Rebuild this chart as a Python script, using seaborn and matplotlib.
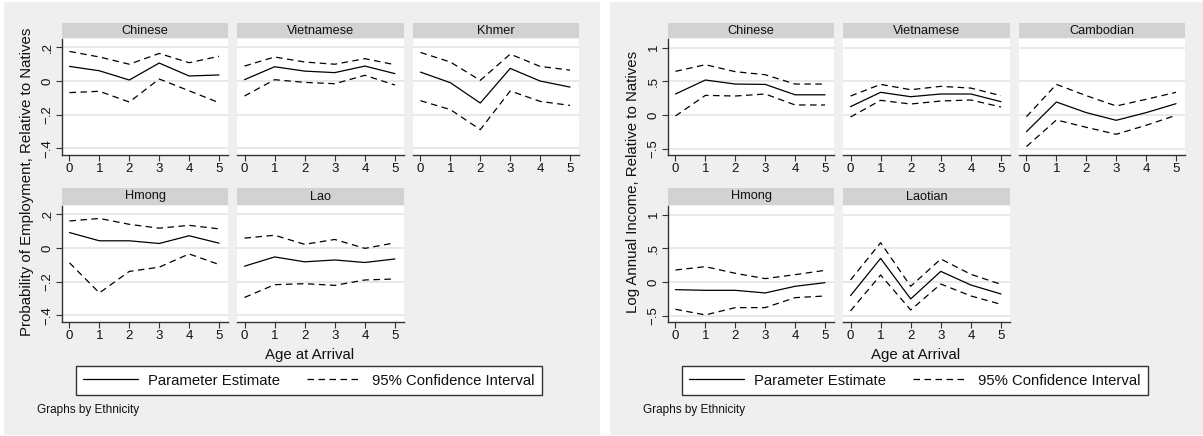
import matplotlib
matplotlib.use("Agg")
import matplotlib.pyplot as plt
from matplotlib.patches import Rectangle
from matplotlib.lines import Line2D
import seaborn as sns
import pandas as pd

# age at arrival (x axis for every panel)
ages = [0, 1, 2, 3, 4, 5]

# Left graph: probability of employment, relative to natives
emp_chinese_est = [0.087, 0.061, 0.006, 0.107, 0.030, 0.036]
emp_chinese_hi = [0.176, 0.143, 0.100, 0.164, 0.109, 0.147]
emp_chinese_lo = [-0.069, -0.061, -0.125, 0.012, -0.058, -0.129]

emp_viet_est = [0.008, 0.085, 0.059, 0.050, 0.089, 0.044]
emp_viet_hi = [0.089, 0.143, 0.113, 0.100, 0.133, 0.097]
emp_viet_lo = [-0.089, 0.008, -0.008, -0.016, 0.034, -0.024]

emp_khmer_est = [0.053, -0.010, -0.131, 0.075, 0.000, -0.036]
emp_khmer_hi = [0.170, 0.113, 0.004, 0.160, 0.087, 0.065]
emp_khmer_lo = [-0.117, -0.170, -0.289, -0.059, -0.121, -0.145]

emp_hmong_est = [0.092, 0.043, 0.043, 0.027, 0.073, 0.029]
emp_hmong_hi = [0.161, 0.176, 0.141, 0.118, 0.135, 0.114]
emp_hmong_lo = [-0.088, -0.267, -0.139, -0.114, -0.035, -0.098]

emp_lao_est = [-0.108, -0.053, -0.082, -0.071, -0.086, -0.065]
emp_lao_hi = [0.059, 0.076, 0.022, 0.051, -0.002, 0.031]
emp_lao_lo = [-0.294, -0.218, -0.212, -0.222, -0.190, -0.184]

# Right graph: log annual income, relative to natives
inc_chinese_est = [0.312, 0.520, 0.460, 0.455, 0.300, 0.300]
inc_chinese_hi = [0.649, 0.748, 0.644, 0.599, 0.460, 0.460]
inc_chinese_lo = [-0.015, 0.292, 0.282, 0.312, 0.149, 0.149]

inc_viet_est = [0.124, 0.337, 0.272, 0.312, 0.312, 0.198]
inc_viet_hi = [0.282, 0.455, 0.376, 0.426, 0.400, 0.287]
inc_viet_lo = [-0.030, 0.218, 0.163, 0.208, 0.223, 0.119]

inc_camb_est = [-0.248, 0.193, 0.035, -0.079, 0.035, 0.168]
inc_camb_hi = [-0.025, 0.455, 0.287, 0.134, 0.233, 0.337]
inc_camb_lo = [-0.470, -0.074, -0.183, -0.287, -0.153, -0.005]

inc_hmong_est = [-0.114, -0.124, -0.124, -0.163, -0.064, -0.010]
inc_hmong_hi = [0.178, 0.228, 0.129, 0.050, 0.109, 0.173]
inc_hmong_lo = [-0.406, -0.490, -0.381, -0.381, -0.233, -0.208]

inc_laotian_est = [-0.203, 0.351, -0.252, 0.158, -0.045, -0.178]
inc_laotian_hi = [0.030, 0.584, -0.064, 0.342, 0.114, -0.035]
inc_laotian_lo = [-0.430, 0.104, -0.416, -0.030, -0.208, -0.332]

emp_ticks = [0.2, 0, -0.2, -0.4]
emp_ticklabels = [".2", "0", "\u2212.2", "\u2212.4"]
inc_ticks = [1, 0.5, 0, -0.5]
inc_ticklabels = ["1", ".5", "0", "\u2212.5"]

sns.set_theme(style="white")
plt.rcParams["font.family"] = ["Liberation Sans", "DejaVu Sans"]

W, H = 1203, 436
fig = plt.figure(figsize=(W / 100, H / 100), dpi=100)
fig.patch.set_facecolor("white")

BG = "#efefef"
HEADER = "#d2d2d2"
GRID = "#e6e6e6"
AXCOL = "#333333"
DASH = (0, (5.2, 3.6))


def px_axes(x0, y0, x1, y1):
    """Add axes from pixel box (top-left origin)"""
    return fig.add_axes([x0 / W, 1 - y1 / H, (x1 - x0) / W, (y1 - y0) / H])


def draw_panel(box, hdr, title, est, lo, hi, ylim, ticks, ticklabels, show_y):
    x0, x1 = box
    # header strip
    hax = px_axes(x0, hdr[0], x1, hdr[1])
    hax.set_facecolor(HEADER)
    hax.set_xticks([])
    hax.set_yticks([])
    for s in hax.spines.values():
        s.set_visible(False)
    hax.text(0.5, 0.5, title, ha="center", va="center", fontsize=9.2,
             color="#111111", transform=hax.transAxes)

    ax = px_axes(x0, hdr[1] + 1, x1, hdr[2])
    ax.set_facecolor("white")
    df = pd.DataFrame({"age": ages, "est": est, "lo": lo, "hi": hi})
    sns.lineplot(data=df, x="age", y="est", ax=ax, color="black", lw=0.9)
    sns.lineplot(data=df, x="age", y="hi", ax=ax, color="black", lw=0.9,
                 linestyle=DASH)
    sns.lineplot(data=df, x="age", y="lo", ax=ax, color="black", lw=0.9,
                 linestyle=DASH)
    ax.set_xlim(-0.25, 5.3)
    ax.set_ylim(*ylim)
    ax.set_xticks(ages)
    ax.set_xticklabels([str(a) for a in ages])
    ax.set_yticks(ticks)
    for t in ticks:
        ax.axhline(t, color=GRID, lw=1.3, zorder=0)
    ax.set_xlabel("")
    ax.set_ylabel("")
    for s in ["top", "right"]:
        ax.spines[s].set_visible(False)
    ax.spines["bottom"].set_color(AXCOL)
    ax.spines["bottom"].set_linewidth(1)
    ax.tick_params(axis="x", bottom=True, direction="out", length=4, width=0.8,
                   color=AXCOL, labelsize=9.5, pad=2, labelcolor="#111111")
    if show_y:
        ax.spines["left"].set_color(AXCOL)
        ax.spines["left"].set_linewidth(1)
        ax.set_yticklabels(ticklabels)
        ax.tick_params(axis="y", left=True, direction="out", length=4, width=0.8,
                       color=AXCOL, labelsize=9.5, pad=2, labelrotation=90,
                       labelcolor="#111111")
        for lab in ax.get_yticklabels():
            lab.set_va("center")
    else:
        ax.spines["left"].set_visible(False)
        ax.tick_params(axis="y", left=False, labelleft=False)


def draw_graph(offset, panels, ylim, ticks, ticklabels, ylabel):
    # grey graph region
    fig.patches.append(Rectangle(((offset + 4) / W, 1 - 435 / H), 596 / W, 433 / H,
                                 transform=fig.transFigure, facecolor=BG,
                                 edgecolor="none", zorder=-10))
    cols = [(62, 228), (237, 404), (413, 579)]
    rows = [(23, 38, 155), (188, 205, 322)]
    for i, (title, est, lo, hi) in enumerate(panels):
        r, c = divmod(i, 3)
        box = (cols[c][0] + offset, cols[c][1] + offset)
        draw_panel(box, rows[r], title, est, lo, hi, ylim, ticks, ticklabels, c == 0)

    fig.text((offset + 27) / W, 1 - 182 / H, ylabel, rotation=90, ha="center",
             va="center", fontsize=10.8, color="#111111")
    fig.text((offset + 310) / W, 1 - 355 / H, "Age at Arrival", ha="center",
             va="center", fontsize=10.8, color="#111111")
    fig.text((offset + 37) / W, 1 - 410 / H, "Graphs by Ethnicity", ha="left",
             va="center", fontsize=8.5, color="#111111")

    handles = [Line2D([], [], color="black", lw=0.9),
               Line2D([], [], color="black", lw=0.9, linestyle=DASH)]
    leg = fig.legend(handles, ["Parameter Estimate", "95% Confidence Interval"],
                     loc="center", ncol=2, mode="expand",
                     bbox_to_anchor=((offset + 76) / W, 1 - 397 / H, 466 / W, 33 / H),
                     fontsize=10.7, frameon=True, fancybox=False, framealpha=1,
                     handlelength=3.7, handletextpad=0.65, borderpad=0.5,
                     borderaxespad=0)
    leg.get_frame().set_edgecolor(AXCOL)
    leg.get_frame().set_linewidth(1)
    leg.get_frame().set_facecolor("white")
    for t in leg.get_texts():
        t.set_color("#111111")


emp_panels = [
    ("Chinese", emp_chinese_est, emp_chinese_lo, emp_chinese_hi),
    ("Vietnamese", emp_viet_est, emp_viet_lo, emp_viet_hi),
    ("Khmer", emp_khmer_est, emp_khmer_lo, emp_khmer_hi),
    ("Hmong", emp_hmong_est, emp_hmong_lo, emp_hmong_hi),
    ("Lao", emp_lao_est, emp_lao_lo, emp_lao_hi),
]
inc_panels = [
    ("Chinese", inc_chinese_est, inc_chinese_lo, inc_chinese_hi),
    ("Vietnamese", inc_viet_est, inc_viet_lo, inc_viet_hi),
    ("Cambodian", inc_camb_est, inc_camb_lo, inc_camb_hi),
    ("Hmong", inc_hmong_est, inc_hmong_lo, inc_hmong_hi),
    ("Laotian", inc_laotian_est, inc_laotian_lo, inc_laotian_hi),
]

draw_graph(0, emp_panels, (-0.44, 0.25), emp_ticks, emp_ticklabels,
           "Probability of Employment, Relative to Natives")
draw_graph(606, inc_panels, (-0.595, 1.13), inc_ticks, inc_ticklabels,
           "Log Annual Income, Relative to Natives")

fig.savefig("out.png", dpi=100)
plt.close(fig)
